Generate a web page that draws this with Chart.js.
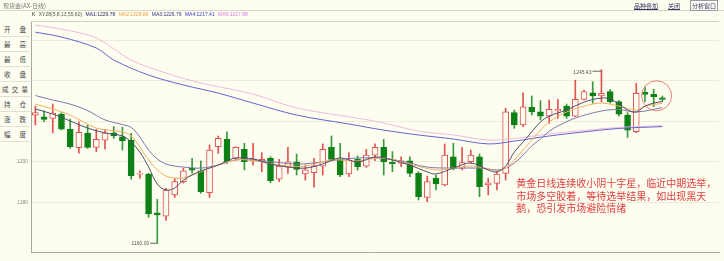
<!DOCTYPE html>
<html>
<head>
<meta charset="utf-8">
<script src="https://cdn.jsdelivr.net/npm/chart.js@4.4.0/dist/chart.umd.min.js"></script>
<style>
  body { margin: 0; background: #fdfdf0; }
  #wrap { position: relative; width: 724px; height: 261px; overflow: hidden; background: #fdfdf0; font-family: "Liberation Sans", Arial, sans-serif; }
  #kchart { position: absolute; left: 0; top: 0; }
  #topbar { position: absolute; left: 0; top: 0; width: 724px; height: 10px; border-bottom: 1px solid #d8d8c8; }
  #title { position: absolute; left: 3px; top: 1px; font-size: 6px; color: #777; font-family: "Noto Sans CJK SC", sans-serif; }
  #links { position: absolute; right: 6px; top: 1px; font-size: 6px; color: #336; font-family: "Noto Sans CJK SC", sans-serif; }
  #links span { margin-left: 10px; text-decoration: underline; }
  #links span.box { border: 1px solid #99a; text-decoration: none; padding: 0 1px; }
  #maline { position: absolute; left: 32px; top: 11px; font-size: 5px; white-space: nowrap; color: #555; }
  #maline span { margin-right: 2px; }
  #panel { position: absolute; left: 0; top: 22px; width: 30px; background: #fdfdf0; font-family: "Noto Sans CJK SC", sans-serif; font-size: 6.5px; color: #444; }
  #panel div { height: 15px; border-bottom: 1px solid #e0e0d4; display: flex; justify-content: space-between; align-items: center; padding: 0 4px; box-sizing: border-box; }
  #panel div.three { padding: 0 2px; }
</style>
</head>
<body>
<div id="wrap">
  <canvas id="kchart" width="724" height="261"></canvas>
  <div id="topbar"></div>
  <div id="title">现货金(AX-日线)</div>
  <div id="links"><span>品种叠加</span><span>关闭</span><span class="box">分析窗口</span></div>
  <div id="maline">
    <span style="color:#222">K</span>
    <span style="color:#555">XY28(5,8,13,55,60)</span>
    <span style="color:#2a2a70">MA1:1229.78</span>
    <span style="color:#f0a040">MA2:1228.86</span>
    <span style="color:#34348a">MA3:1226.79</span>
    <span style="color:#3a3ad0">MA4:1217.41</span>
    <span style="color:#e07ae0">MA5:1217.88</span>
  </div>
  <div id="panel">
    <div><span>开</span><span>盘</span></div>
    <div><span>最</span><span>高</span></div>
    <div><span>最</span><span>低</span></div>
    <div><span>收</span><span>盘</span></div>
    <div class="three"><span>成</span><span>交</span><span>量</span></div>
    <div><span>持</span><span>仓</span></div>
    <div><span>涨</span><span>跌</span></div>
    <div><span>幅</span><span>度</span></div>
  </div>
</div>
<script>
// 日K数据 (开 高 低 收)
const opens = [1223.1, 1222.2, 1221.5, 1223.6, 1216.1, 1207.0, 1214.2, 1207.2, 1210.8, 1214.4,
  1212.4, 1210.8, 1194.0, 1194.0, 1175.0, 1173.3, 1183.8, 1190.3, 1196.9, 1195.7,
  1184.9, 1207.5, 1211.1, 1201.8, 1206.2, 1200.5, 1200.1, 1201.8, 1191.5, 1197.4,
  1200.1, 1194.1, 1194.7, 1198.0, 1207.2, 1201.3, 1194.1, 1201.3, 1198.0, 1203.4,
  1207.2, 1199.8, 1199.3, 1200.6, 1194.4, 1182.6, 1192.0, 1188.7, 1202.6, 1196.9,
  1200.1, 1202.6, 1188.7, 1189.5, 1194.4, 1224.3, 1218.2, 1226.9, 1224.7, 1222.6,
  1225.2, 1227.5, 1222.6, 1230.8, 1234.1, 1232.5, 1234.6, 1229.7, 1223.1, 1214.9,
  1234.3, 1233.3, 1231.6];
const highs = [1227.5, 1225.2, 1228.5, 1224.3, 1221.0, 1219.8, 1218.2, 1216.1, 1216.1, 1217.4,
  1217.1, 1214.1, 1195.7, 1194.4, 1181.6, 1187.1, 1192.0, 1196.9, 1201.8, 1200.5,
  1208.4, 1212.8, 1214.9, 1207.5, 1209.2, 1209.2, 1204.6, 1202.6, 1201.3, 1207.2,
  1203.9, 1198.5, 1201.8, 1208.9, 1212.8, 1209.2, 1204.6, 1203.0, 1206.2, 1208.9,
  1211.1, 1205.1, 1202.6, 1202.6, 1195.2, 1193.1, 1193.6, 1208.9, 1209.2, 1207.2,
  1205.9, 1203.9, 1192.0, 1195.2, 1226.4, 1225.6, 1234.1, 1232.5, 1230.2, 1230.5,
  1230.8, 1228.5, 1240.3, 1235.4, 1239.5, 1245.43, 1235.7, 1230.2, 1224.3, 1238.7,
  1237.0, 1235.8, 1232.5];
const lows = [1218.2, 1219.8, 1214.3, 1215.8, 1206.7, 1204.3, 1206.7, 1205.1, 1206.3, 1211.6,
  1205.9, 1191.5, 1192.0, 1172.8, 1160.0, 1171.3, 1182.6, 1189.6, 1194.5, 1184.6,
  1182.6, 1204.3, 1199.3, 1201.0, 1196.1, 1198.5, 1195.2, 1189.8, 1190.3, 1194.4,
  1193.6, 1191.1, 1187.6, 1193.6, 1201.0, 1192.8, 1192.8, 1196.0, 1197.4, 1200.6,
  1193.6, 1195.2, 1197.7, 1192.8, 1181.3, 1180.5, 1186.2, 1188.2, 1196.1, 1196.1,
  1199.3, 1182.9, 1183.8, 1186.2, 1191.1, 1216.6, 1217.4, 1223.1, 1220.7, 1219.0,
  1221.5, 1221.5, 1222.3, 1230.5, 1228.9, 1229.7, 1228.9, 1222.6, 1212.1, 1214.4,
  1229.7, 1227.2, 1229.7];
const closes = [1224.3, 1221.0, 1224.1, 1216.1, 1207.5, 1214.6, 1207.2, 1211.2, 1214.4, 1212.8,
  1210.5, 1193.3, 1194.2, 1174.4, 1174.0, 1186.2, 1190.3, 1195.7, 1196.0, 1185.4,
  1205.9, 1211.6, 1200.1, 1207.2, 1200.1, 1201.5, 1201.3, 1190.8, 1198.0, 1200.1,
  1196.4, 1196.1, 1198.0, 1206.2, 1201.3, 1193.6, 1201.0, 1197.7, 1203.4, 1207.2,
  1200.1, 1199.0, 1200.6, 1194.4, 1182.9, 1190.3, 1189.2, 1203.4, 1196.9, 1199.7,
  1203.4, 1187.8, 1189.8, 1194.1, 1224.7, 1218.2, 1227.2, 1224.7, 1222.6, 1225.9,
  1225.9, 1222.6, 1230.8, 1234.6, 1232.5, 1233.8, 1229.7, 1223.6, 1215.7, 1233.8,
  1233.3, 1232.1, 1230.8];

// 均线读数 [K线序号, 数值]
const ma5Pts = [[0, 1226.1], [2, 1223.6], [4, 1220.2], [6, 1216.7], [8, 1214.3], [10, 1212.8], [11, 1209.8],
  [12, 1204.9], [13, 1197.5], [14, 1189.2], [15, 1186.2], [16, 1187.2], [17, 1191.1], [18, 1193.6],
  [19, 1195.6], [21, 1198.5], [22, 1200.5], [23, 1202.0], [25, 1201.5], [27, 1199.0], [29, 1197.5],
  [31, 1197.0], [33, 1199.0], [35, 1202.0], [37, 1200.0], [39, 1202.5], [41, 1201.0], [43, 1198.5],
  [45, 1195.1], [46, 1194.1], [48, 1197.0], [50, 1199.5], [52, 1196.1], [53, 1195.1], [54, 1198.0],
  [55, 1204.9], [56, 1209.8], [57, 1214.8], [58, 1219.7], [59, 1222.6], [61, 1225.6], [63, 1229.5],
  [65, 1231.5], [66, 1231.0], [67, 1228.5], [68, 1225.6], [69, 1224.6], [70, 1227.5], [71, 1229.0],
  [72, 1229.78]];
const ma8Pts = [[0, 1228.5], [2, 1226.1], [4, 1223.1], [7, 1216.7], [10, 1214.8], [11, 1212.8], [12, 1207.4],
  [13, 1201.0], [14, 1196.1], [15, 1193.1], [16, 1192.1], [17, 1192.1], [18, 1193.6], [19, 1195.2],
  [21, 1198.5], [23, 1201.0], [25, 1200.7], [28, 1198.5], [31, 1198.0], [34, 1201.0], [37, 1200.5],
  [40, 1202.0], [43, 1199.0], [46, 1196.1], [48, 1197.0], [50, 1198.0], [52, 1196.6], [53, 1195.6],
  [54, 1197.0], [55, 1201.0], [56, 1205.9], [57, 1210.8], [58, 1215.7], [59, 1219.7], [61, 1224.6],
  [63, 1227.5], [65, 1229.0], [67, 1227.5], [69, 1225.6], [70, 1227.5], [72, 1228.86]];
const ma13Pts = [[0, 1232.7], [2, 1230.5], [4, 1228.5], [6, 1225.3], [8, 1220.7], [10, 1218.4], [11, 1217.0],
  [12, 1212.3], [13, 1205.9], [14, 1201.5], [15, 1199.0], [16, 1198.0], [17, 1197.5], [19, 1197.0],
  [21, 1198.5], [23, 1201.0], [25, 1201.0], [27, 1200.2], [30, 1199.0], [33, 1200.0], [36, 1201.7],
  [39, 1202.0], [42, 1200.5], [45, 1197.5], [48, 1197.0], [51, 1197.0], [53, 1196.1], [54, 1197.0],
  [55, 1199.5], [56, 1203.4], [57, 1207.9], [58, 1211.3], [59, 1215.2], [60, 1217.7], [62, 1221.6],
  [65, 1225.1], [67, 1225.8], [69, 1224.6], [72, 1226.79]];
const ma55Pts = [[0, 1263.9], [3, 1261.5], [7, 1256.1], [9, 1250.2], [13, 1242.8], [17, 1237.9], [21, 1233.9],
  [25, 1229.0], [30, 1223.1], [36, 1218.7], [40, 1215.7], [44, 1213.3], [48, 1211.3], [52, 1208.9],
  [55, 1210.3], [59, 1212.8], [63, 1214.8], [67, 1216.5], [72, 1217.41]];
const ma60Pts = [[0, 1267.4], [3, 1265.4], [7, 1261.0], [11, 1250.2], [15, 1243.8], [19, 1238.9], [25, 1233.4],
  [30, 1226.6], [37, 1221.6], [40, 1219.2], [44, 1215.2], [48, 1213.3], [52, 1210.8], [55, 1211.6],
  [59, 1213.8], [63, 1215.5], [67, 1217.0], [72, 1217.88]];

const yTicks = [1180, 1200, 1220, 1240, 1260];
const yMin = 1155.7;
const yMax = 1269.4;
const padSlots = 6; // 右侧留白

const note = ['黄金日线连续收小阴十字星，临近中期选举，', '市场多空胶着，等待选举结果，如出现黑天', '鹅，恐引发市场避险情绪'];

const bg = '#fdfdf0';
const upColor = '#e25252';
const downColor = '#0d8016';
const downWick = '#369a3c';

const labels = Array.from({ length: closes.length + padSlots }, (_, i) => String(i + 1));
const isUp = closes.map((c, i) => c >= opens[i]);

function fromPts(pts) {
    const arr = labels.map(() => null);
    pts.forEach(([i, v]) => { arr[i] = v; });
    return arr;
}

function maLine(label, pts, color, order) {
    return {
        type: 'line', label: label, data: fromPts(pts), borderColor: color, borderWidth: 1,
        pointRadius: 0, spanGaps: true, tension: 0.35, order: order
    };
}

const overlay = {
    id: 'overlay',
    beforeDraw(chart) {
        const { ctx, width, height } = chart;
        ctx.save();
        ctx.fillStyle = bg;
        ctx.fillRect(0, 0, width, height);
        ctx.restore();
    },
    afterDraw(chart) {
        const { ctx, chartArea, scales: { x, y } } = chart;
        ctx.save();
        // 图区上边框
        ctx.strokeStyle = '#d0d0c4';
        ctx.lineWidth = 1;
        ctx.beginPath();
        ctx.moveTo(chartArea.left, Math.round(chartArea.top) + 0.5);
        ctx.lineTo(chartArea.right, Math.round(chartArea.top) + 0.5);
        ctx.stroke();

        // 纵轴刻度
        ctx.font = '5px "Liberation Sans"';
        ctx.fillStyle = '#888';
        ctx.textAlign = 'right';
        ctx.textBaseline = 'middle';
        yTicks.forEach(v => {
            const py = y.getPixelForValue(v);
            if (py > 152) ctx.fillText(String(v), chartArea.left - 3, py);
        });

        // 最高/最低标注
        const hi = Math.max(...highs), lo = Math.min(...lows);
        const hiX = x.getPixelForValue(highs.indexOf(hi)), hiY = y.getPixelForValue(hi);
        const loX = x.getPixelForValue(lows.indexOf(lo)), loY = y.getPixelForValue(lo);
        ctx.strokeStyle = '#666';
        ctx.fillStyle = '#555';
        ctx.beginPath();
        ctx.moveTo(hiX - 9, hiY + 1.5); ctx.lineTo(hiX, hiY + 1.5);
        ctx.moveTo(loX - 7, loY); ctx.lineTo(loX, loY);
        ctx.stroke();
        ctx.fillText(hi.toFixed(2), hiX - 10, hiY + 3);
        ctx.fillText(lo.toFixed(2), loX - 8, loY);

        // 圈出最后几根K线
        const cx = x.getPixelForValue(closes.length - 2) + 3;
        const cy = y.getPixelForValue(1232.6);
        ctx.strokeStyle = '#e88080';
        ctx.beginPath();
        ctx.arc(cx, cy, 15, 0, Math.PI * 2);
        ctx.stroke();

        // 文字点评
        ctx.font = '10px "Noto Sans CJK SC"';
        ctx.fillStyle = '#e04040';
        ctx.textAlign = 'left';
        const tx = x.getPixelForValue(55) + 2;
        note.forEach((line, i) => ctx.fillText(line, tx, 183 + i * 12.8));
        ctx.restore();
    }
};

new Chart(document.getElementById('kchart').getContext('2d'), {
    type: 'bar',
    data: {
        labels: labels,
        datasets: [
            maLine('MA1', ma5Pts, '#50506e', 0),
            maLine('MA2', ma8Pts, '#f3b066', 0),
            maLine('MA3', ma13Pts, '#8078aa', 0),
            maLine('MA4', ma55Pts, '#6464d4', 0),
            maLine('MA5', ma60Pts, '#efbcdc', 0),
            {
                label: 'body', data: opens.map((o, i) => [o, closes[i]]), grouped: false, order: 1,
                barThickness: 6, borderWidth: 1, borderSkipped: false, minBarLength: 1,
                backgroundColor: c => isUp[c.dataIndex] ? bg : downColor,
                borderColor: c => isUp[c.dataIndex] ? upColor : downColor
            },
            {
                label: 'wick', data: lows.map((l, i) => [l, highs[i]]), grouped: false, order: 2,
                barThickness: 1, borderWidth: 0,
                backgroundColor: c => isUp[c.dataIndex] ? upColor : downWick
            }
        ]
    },
    options: {
        responsive: false,
        devicePixelRatio: 1,
        animation: false,
        layout: { padding: { left: 31, top: 21, right: 5, bottom: 9 } },
        plugins: { legend: { display: false }, tooltip: { enabled: false } },
        scales: {
            x: {
                type: 'category', offset: true,
                grid: { display: false, drawTicks: false },
                ticks: { display: false },
                border: { display: true, color: '#a8a8a0' }
            },
            y: {
                min: yMin, max: yMax,
                grid: { color: '#ececdc', drawTicks: false },
                ticks: { display: false },
                border: { display: true, color: '#a8a8a0' },
                afterBuildTicks: s => { s.ticks = yTicks.map(v => ({ value: v })); }
            }
        }
    },
    plugins: [overlay]
});
</script>
</body>
</html>
